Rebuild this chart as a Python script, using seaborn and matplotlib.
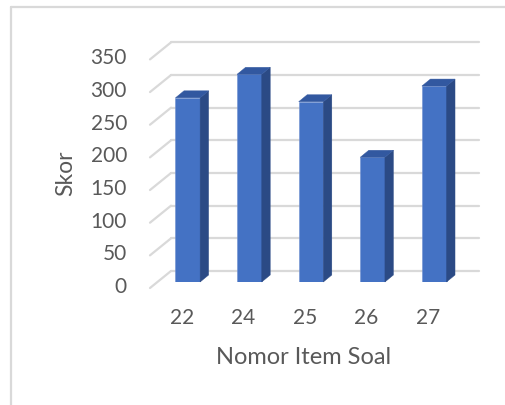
import matplotlib
matplotlib.use("Agg")
import matplotlib.pyplot as plt
from matplotlib.patches import Polygon
from matplotlib.lines import Line2D
import numpy as np
import pandas as pd
import seaborn as sns

# Scores per question item
items = ["22", "24", "25", "26", "27"]
scores = [282, 318, 276, 191, 300]
y_ticks = [0, 50, 100, 150, 200, 250, 300, 350]

sns.set_theme(style="white")
plt.rcParams["font.family"] = ["Lato", "DejaVu Sans"]

TEXT = "#595959"
GRID = "#D9D9D9"
FRONT = "#4472C4"
TOP = "#3258A0"
SIDE = "#2B4A85"

W, H, DPI = 506, 405, 100
fig = plt.figure(figsize=(W / DPI, H / DPI), dpi=DPI)
fig.patch.set_facecolor("white")

# axes sits in the plane of the bars' front faces
left_px, right_px, base_px, top_px = 157, 465, 282, 53.4
ax = fig.add_axes([left_px / W, (H - base_px) / H,
                   (right_px - left_px) / W, (base_px - top_px) / H])
ax.set_facecolor("none")
ax.set_zorder(2)

df = pd.DataFrame({"item": items, "skor": scores})
sns.barplot(data=df, x="item", y="skor", order=items, color=FRONT,
            saturation=1, width=0.4, ax=ax, zorder=3,
            edgecolor="#6E8FD0", linewidth=0.4)
ax.set_xlim(-0.5, len(items) - 0.5)
ax.set_ylim(0, 350)
ax.axis("off")

# depth offsets in pixels (right, up) relative to the bar plane
FRONT_OFF = np.array([-7.0, -6.0])
BACK_OFF = np.array([14.0, 11.0])
BAR_DEPTH = np.array([8.5, 7.0])

fig.canvas.draw()
to_px = ax.transData.transform


def poly(points, color, z):
    fig.add_artist(Polygon(points, closed=True, facecolor=color,
                           edgecolor=color, linewidth=0.3,
                           transform=None, zorder=z))


# back wall and floor-side gridlines (behind the bars)
x0, x1 = ax.get_xlim()
for v in y_ticks:
    a = to_px((x0, v))
    b = to_px((x1, v))
    fig.add_artist(Line2D([a[0] + BACK_OFF[0], b[0] + BACK_OFF[0]],
                          [a[1] + BACK_OFF[1], b[1] + BACK_OFF[1]],
                          color=GRID, lw=1.6, transform=None, zorder=0.5))
    fig.add_artist(Line2D([a[0] + FRONT_OFF[0], a[0] + BACK_OFF[0]],
                          [a[1] + FRONT_OFF[1], a[1] + BACK_OFF[1]],
                          color=GRID, lw=1.6, transform=None, zorder=0.5))
    # value labels on the front edge of the wall
    fig.text(a[0] + FRONT_OFF[0] - 23, a[1] + FRONT_OFF[1] + 1, f"{v}",
             transform=None, ha="right", va="center", fontsize=15,
             color=TEXT)

# 3D side and top faces for each bar
for p in ax.patches:
    bx, by = p.get_x(), p.get_y()
    bw, bh = p.get_width(), p.get_height()
    ll = to_px((bx, by))
    lr = to_px((bx + bw, by))
    ul = to_px((bx, by + bh))
    ur = to_px((bx + bw, by + bh))
    d = BAR_DEPTH
    poly([lr, ur, ur + d, lr + d], SIDE, 4)
    poly([ul, ur, ur + d, ul + d], TOP, 4)

# category labels
for i, lab in enumerate(items):
    a = to_px((i, 0))
    fig.text(a[0] - 6, a[1] - 36, lab, transform=None, ha="center",
             va="center", fontsize=15, color=TEXT)

fig.text(304 / W, 1 - 358 / H, "Nomor Item Soal", ha="center", va="center",
         fontsize=17, color=TEXT)
fig.text(66 / W, 1 - 173 / H, "Skor", ha="center", va="center",
         rotation=90, fontsize=16.5, color=TEXT)

# chart area border (left and top edges)
fig.add_artist(Line2D([11 / W, 11 / W], [0, 1 - 7 / H], color=GRID, lw=1.6,
                      transform=fig.transFigure))
fig.add_artist(Line2D([11 / W, 1], [1 - 7 / H, 1 - 7 / H], color=GRID,
                      lw=1.6, transform=fig.transFigure))

fig.savefig("out.png", dpi=DPI)
